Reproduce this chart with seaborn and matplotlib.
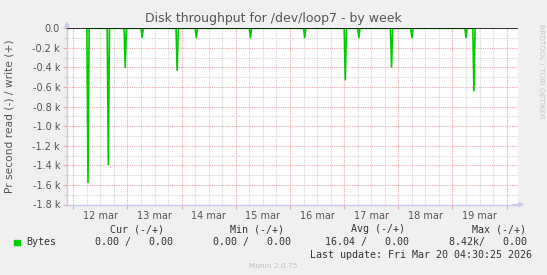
import matplotlib
matplotlib.use("Agg")
import numpy as np
import pandas as pd
import seaborn as sns
import matplotlib.pyplot as plt
import matplotlib.dates as mdates
from matplotlib.ticker import FuncFormatter, MultipleLocator
from matplotlib.transforms import ScaledTranslation
from matplotlib.patches import Rectangle

# ---------------- data ----------------
title = "Disk throughput for /dev/loop7 - by week"
ylabel = "Pr second read (-) / write (+)"
series_name = "Bytes"
start_day = pd.Timestamp("2026-03-12 00:00")
view_start_h = -2.8      # hours relative to start_day
view_end_h = 196.8
# read spikes (negative = read), hours since 12 mar 00:00
spike_hours = [6.5, 15.5, 23.0, 30.5, 46.0, 54.5, 78.5, 102.5,
               120.5, 126.5, 141.0, 150.0, 174.0, 177.5]
read_bytes = [-1575, -1390, -400, -95, -430, -95, -95, -95,
              -525, -95, -395, -95, -95, -637]
sample_h = 0.5           # 30 min samples
day_labels = ["12 mar", "13 mar", "14 mar", "15 mar",
              "16 mar", "17 mar", "18 mar", "19 mar"]
y_min, y_max = -1800, 0
stat_headers = ["Cur (-/+)", "Min (-/+)", "Avg (-/+)", "Max (-/+)"]
stat_values = ["0.00 /   0.00", "0.00 /   0.00", "16.04 /   0.00", "8.42k/   0.00"]
last_update = "Last update: Fri Mar 20 04:30:25 2026"
footer = "Munin 2.0.75"
side_text = "RRDTOOL / TOBI OETIKER"

# build the line: zero before/after each 30-min spike sample
t, v = [], []
for h, b in zip(spike_hours, read_bytes):
    t += [h - sample_h, h, h + sample_h]
    v += [0, b, 0]
df = pd.DataFrame({"time": [start_day + pd.Timedelta(hours=x) for x in t],
                   "bytes": v})

# ---------------- figure ----------------
sns.set_theme(style="white")
plt.rcParams["font.family"] = ["DejaVu Sans"]
W, H = 547, 275
fig = plt.figure(figsize=(W / 100, H / 100), dpi=100, facecolor="#f0f0f0")
L, R, T, B = 67, 517.5, 28.3, 204.5
ax = fig.add_axes([L / W, 1 - B / H, (R - L) / W, (B - T) / H])
ax.set_facecolor("white")

GREEN = "#00cc00"
RED = "#eaa8a8"
GRAY = "#d4d4d4"
AXIS = "#c8c8f0"
TXT = "#555555"

sns.lineplot(data=df, x="time", y="bytes", color=GREEN, lw=1.2,
             estimator=None, ax=ax, zorder=4)
ax.axhline(0, color="black", lw=1.1, zorder=6)

ax.set_xlim(start_day + pd.Timedelta(hours=view_start_h),
            start_day + pd.Timedelta(hours=view_end_h))
ax.set_ylim(y_min, y_max)
ax.set_xlabel("")
ax.set_ylabel("")

# x axis
ax.xaxis.set_major_locator(mdates.DayLocator())
ax.xaxis.set_minor_locator(mdates.HourLocator(byhour=[6, 12, 18]))
xmax_num = mdates.date2num(start_day + pd.Timedelta(hours=view_end_h))
first_num = mdates.date2num(start_day)

def xfmt(x, pos):
    idx = int(round(x - first_num))
    if 0 <= idx < len(day_labels) and x + 0.5 < xmax_num:
        return day_labels[idx]
    return ""

ax.xaxis.set_major_formatter(FuncFormatter(xfmt))

# y axis
ax.yaxis.set_major_locator(MultipleLocator(200))
ax.yaxis.set_minor_locator(MultipleLocator(100))
ax.yaxis.set_major_formatter(FuncFormatter(
    lambda y, p: "0.0" if abs(y) < 1e-9 else f"{y/1000:.1f} k"))

dots = (0, (1, 1))
ax.grid(which="minor", axis="both", color=GRAY, ls=dots, lw=0.8, zorder=1)
ax.grid(which="major", axis="both", color=RED, ls=dots, lw=0.8, zorder=2)
ax.set_axisbelow(True)

ax.tick_params(axis="x", which="major", length=3, width=0.9, color=RED,
               direction="out", labelsize=7, labelcolor=TXT, pad=2,
               bottom=True)
ax.tick_params(axis="x", which="minor", length=0)
ax.tick_params(axis="y", which="major", length=3, width=0.9, color=RED,
               direction="out", labelsize=7, labelcolor=TXT, pad=2, left=True)
ax.tick_params(axis="y", which="minor", length=3, width=0.9, color=GRAY,
               direction="out", left=True)

offset = ScaledTranslation(27 / 100, 0, fig.dpi_scale_trans)
for lab in ax.get_xticklabels():
    lab.set_transform(lab.get_transform() + offset)

for s in ["top", "right"]:
    ax.spines[s].set_visible(False)
for s in ["left", "bottom"]:
    ax.spines[s].set_color(AXIS)
    ax.spines[s].set_linewidth(1.0)

# axis arrows
ax.annotate("", xy=(0, 1 + 7 / (B - T)), xytext=(0, 0.99),
            xycoords="axes fraction",
            arrowprops=dict(arrowstyle="-|>", color=AXIS, lw=1.0,
                            mutation_scale=7, shrinkA=0, shrinkB=0),
            annotation_clip=False)
ax.annotate("", xy=(1 + 7 / (R - L), 0), xytext=(0.99, 0),
            xycoords="axes fraction",
            arrowprops=dict(arrowstyle="-|>", color=AXIS, lw=1.0,
                            mutation_scale=7, shrinkA=0, shrinkB=0),
            annotation_clip=False)

# texts
def fx(x):
    return x / W

def fy(y):
    return 1 - y / H

fig.text(0.5, fy(18.5), title, ha="center", va="center", fontsize=9,
         color=TXT)
fig.text(fx(10), fy(116), ylabel, rotation=90, ha="center", va="center",
         fontsize=7.7, color=TXT)
fig.text(fx(541), fy(24), side_text, rotation=270, ha="center", va="top",
         fontsize=5.3, color="#c4c4c4")

MONO = "DejaVu Sans Mono"
mfs = 7.2
header_right = [164, 284, 405, 526]
value_right = [173, 291, 409, 527]
for hx, hdr in zip(header_right, stat_headers):
    fig.text(fx(hx), fy(229.5), hdr, ha="right", va="center",
             family=MONO, fontsize=mfs, color="#333333")
fig.patches.append(Rectangle((fx(14), fy(245)), 5.5 / W, 5.5 / H,
                             transform=fig.transFigure, color=GREEN,
                             figure=fig))
fig.text(fx(26), fy(242.3), series_name, ha="left", va="center",
         family=MONO, fontsize=mfs, color="#333333")
for vx, val in zip(value_right, stat_values):
    fig.text(fx(vx), fy(242.3), val, ha="right", va="center",
             family=MONO, fontsize=mfs, color="#333333")
fig.text(fx(532.5), fy(254.5), last_update, ha="right", va="center",
         family=MONO, fontsize=mfs, color="#333333")
fig.text(fx(273), fy(266.5), footer, ha="center", va="center",
         fontsize=5.3, color="#c0c0c0")

fig.savefig("out.png", dpi=100, facecolor=fig.get_facecolor())
